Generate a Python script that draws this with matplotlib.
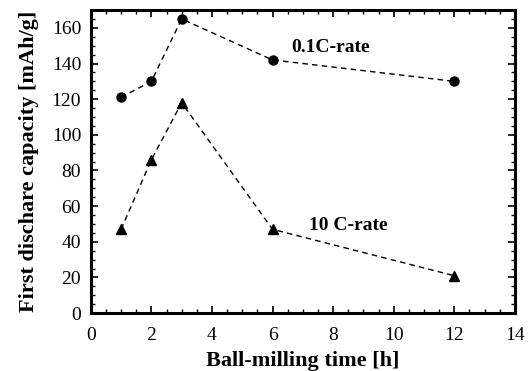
import matplotlib
matplotlib.use("Agg")
import matplotlib.pyplot as plt
from matplotlib.ticker import MultipleLocator

plt.rcParams['font.family'] = ['Liberation Serif', 'DejaVu Serif']

time_h = [1, 2, 3, 6, 12]
cap_01C = [121, 130, 165, 142, 130]
cap_10C = [47, 86, 118, 47, 21]

fig = plt.figure(figsize=(5.28, 3.71), dpi=100)
ax = fig.add_axes([0.172, 0.156, 0.803, 0.817])

ax.plot(time_h, cap_01C, linestyle='--', color='black', linewidth=1.0,
        marker='o', markersize=6.5, dashes=(4, 3))
ax.plot(time_h, cap_10C, linestyle='--', color='black', linewidth=1.0,
        marker='^', markersize=7.5, dashes=(4, 3))

ax.text(7.9, 149, '0.1C-rate', fontsize=14, fontweight='bold', ha='center', va='center')
ax.text(8.5, 49, '10 C-rate', fontsize=14, fontweight='bold', ha='center', va='center')

ax.set_xlim(0, 14)
ax.set_ylim(0, 170)
ax.xaxis.set_major_locator(MultipleLocator(2))
ax.xaxis.set_minor_locator(MultipleLocator(0.5))
ax.yaxis.set_major_locator(MultipleLocator(20))
ax.yaxis.set_minor_locator(MultipleLocator(5))
ax.tick_params(which='both', direction='in', top=True, right=True)
ax.tick_params(which='major', length=5, width=1.2, labelsize=14)
ax.tick_params(axis='x', which='major', pad=10)
ax.tick_params(axis='y', which='major', pad=7)
ax.tick_params(which='minor', length=3, width=1.0)
for s in ax.spines.values():
    s.set_linewidth(2.2)

ax.set_xlabel('Ball-milling time [h]', fontsize=16, fontweight='bold', labelpad=5)
ax.set_ylabel('First dischare capacity [mAh/g]', fontsize=16, fontweight='bold', labelpad=9)

fig.savefig('out.png', dpi=100)
